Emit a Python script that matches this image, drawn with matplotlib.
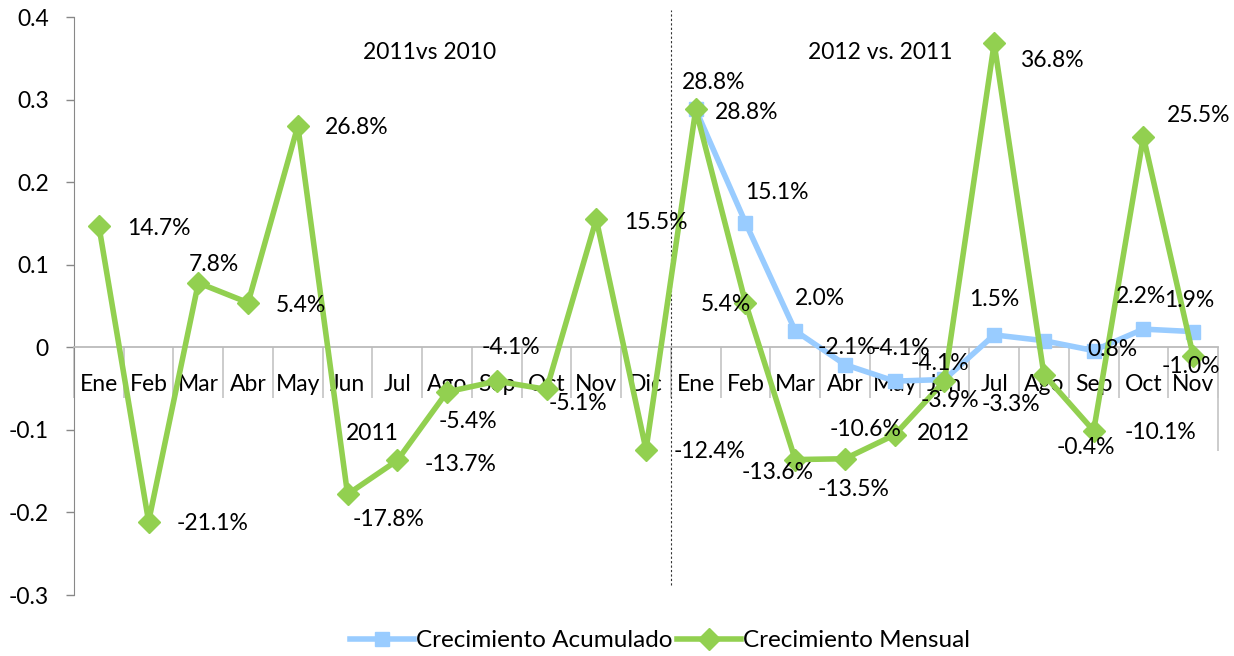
import matplotlib
matplotlib.use("Agg")
import matplotlib.pyplot as plt
from matplotlib.lines import Line2D
import numpy as np

plt.rcParams['font.family'] = ['Lato', 'DejaVu Sans']

categories = ["Ene", "Feb", "Mar", "Abr", "May", "Jun", "Jul", "Ago", "Sep", "Oct", "Nov", "Dic",
              "Ene", "Feb", "Mar", "Abr", "May", "Jun", "Jul", "Ago", "Sep", "Oct", "Nov"]
mensual = [0.147, -0.211, 0.078, 0.054, 0.268, -0.178, -0.137, -0.054, -0.041, -0.051, 0.155, -0.124,
           0.288, 0.054, -0.136, -0.135, -0.106, -0.041, 0.368, -0.033, -0.101, 0.255, -0.010]
acumulado = [np.nan] * 12 + [0.288, 0.151, 0.020, -0.021, -0.041, -0.039, 0.015, 0.008, -0.004, 0.022, 0.019]

# label offsets (pixels) for data labels
off_mensual = [(60, -3), (64, -2), (16, 18), (53, -3), (59, -2), (41, -25), (63, -4), (21, -30),
               (14, 34), (31, -14), (60, -3), (64, -2), (18, 27), (-20, -2), (-18, -13), (9, -31),
               (-29, 5), (-4, 18), (58, -17), (-33, -30), (67, -2), (55, 21), (-2, -11)]
off_acum = [None] * 12 + [(51, -3), (31, 30), (25, 32), (2, 17), (6, 33), (6, -21), (0, 35),
                          (69, -9), (-8, -97), (-2, 33), (-4, 31)]

GREEN = '#92D050'
BLUE = '#99CCFF'
FS = 16.5

fig = plt.figure(figsize=(12.34, 6.56), dpi=100)
ax = fig.add_axes([74 / 1234, 1 - 595 / 656, 1144 / 1234, 578 / 656])

x = np.arange(len(categories))
ax.plot(x, acumulado, color=BLUE, lw=4, marker='s', ms=10, zorder=3)
ax.plot(x, mensual, color=GREEN, lw=4, marker='D', ms=11, zorder=4)

for i, v in enumerate(mensual):
    dx, dy = off_mensual[i]
    ax.annotate(f"{v*100:.1f}%", (i, v), xytext=(dx, dy), textcoords='offset pixels',
                ha='center', va='center', fontsize=FS, zorder=5)
for i, v in enumerate(acumulado):
    if off_acum[i] is None:
        continue
    dx, dy = off_acum[i]
    ax.annotate(f"{v*100:.1f}%", (i, v), xytext=(dx, dy), textcoords='offset pixels',
                ha='center', va='center', fontsize=FS, zorder=5)

ax.set_xlim(-0.5, len(categories) - 0.5)
ax.set_ylim(-0.3, 0.4)
yt = np.round(np.arange(-0.3, 0.41, 0.1), 1)
ax.set_yticks(yt)
ax.set_yticklabels(["0" if t == 0 else f"{t:.1f}" for t in yt])
ax.tick_params(axis='y', labelsize=FS, length=6, color='#888888', width=1, pad=12)

for s in ['top', 'right']:
    ax.spines[s].set_visible(False)
ax.spines['left'].set_color('#888888')
ax.spines['bottom'].set_position(('data', 0))
ax.spines['bottom'].set_color('#BBBBBB')
ax.spines['bottom'].set_linewidth(1.3)

ax.set_xticks(x)
ax.set_xticklabels(categories)
ax.set_xticks(np.arange(-0.5, len(categories)), minor=True)
ax.tick_params(axis='x', which='major', length=0, labelsize=FS, pad=19)
ax.tick_params(axis='x', which='minor', length=37, width=1.3, color='#C8C8C8', direction='out')
ax.vlines(len(categories) - 0.5, -0.125, 0, color='#C8C8C8', lw=1.3, clip_on=False)

# dashed separator between years
ax.plot([11.5, 11.5], [-0.288, 0.408], color='#333333', lw=0.8, ls=(0, (2, 2)), clip_on=False, zorder=2)

ax.text(0.311, 0.938, "2011vs 2010", transform=ax.transAxes, ha='center', va='center', fontsize=FS)
ax.text(0.705, 0.939, "2012 vs. 2011", transform=ax.transAxes, ha='center', va='center', fontsize=FS)
ax.text(0.2605, 0.280, "2011", transform=ax.transAxes, ha='center', va='center', fontsize=FS)
ax.text(0.760, 0.280, "2012", transform=ax.transAxes, ha='center', va='center', fontsize=FS)

handles = [Line2D([], [], color=BLUE, lw=4, marker='s', ms=10),
           Line2D([], [], color=GREEN, lw=4, marker='D', ms=11)]
fig.legend(handles, ["Crecimiento Acumulado", "Crecimiento Mensual"], loc='center',
           bbox_to_anchor=(0.535, 0.023), ncol=2, frameon=False, fontsize=17.5,
           handlelength=2.6, handletextpad=0.1, columnspacing=0.2)

fig.savefig("out.png", dpi=100)
